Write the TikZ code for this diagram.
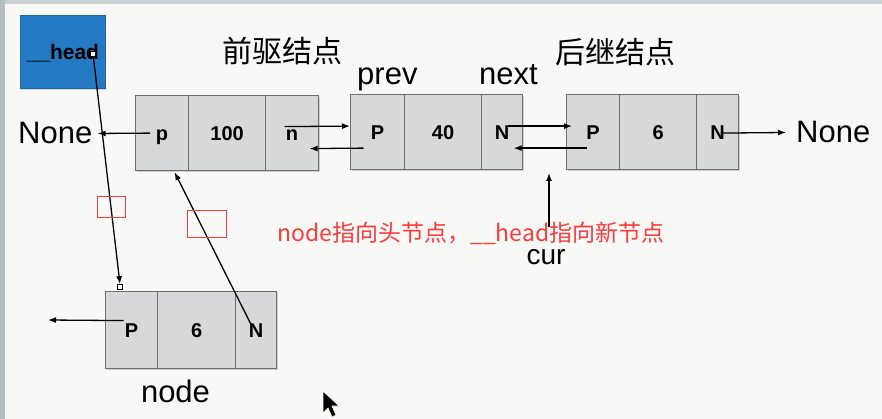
\documentclass[tikz,border=0pt]{standalone}
\usepackage{fontspec}
\setmainfont{Liberation Sans}
\newfontfamily\cjk{Noto Sans CJK SC}
\usetikzlibrary{arrows.meta,shadows}
\definecolor{bg}{HTML}{F8F8F6}
\definecolor{edgegray}{HTML}{B4BDC0}
\definecolor{cellfill}{HTML}{D6D8D9}
\definecolor{celldraw}{HTML}{6E6E6E}
\definecolor{headblue}{HTML}{2479C3}
\definecolor{redtxt}{HTML}{FF3B3B}
\begin{document}
\begin{tikzpicture}[x=1pt,y=-1pt,
  cell/.style={draw=celldraw, line width=1.2pt, fill=cellfill, minimum height=75pt,
    inner sep=0pt, text height=14pt, text depth=0pt, anchor=north west,
    font=\bfseries\fontsize{20}{20}\selectfont,
    drop shadow={shadow xshift=1pt, shadow yshift=-1.5pt, opacity=0.35}},
  big/.style={inner sep=0pt, font=\fontsize{31}{31}\selectfont},
  cjklabel/.style={inner sep=0pt, font=\cjk\fontsize{30}{30}\selectfont},
  arr/.style={line width=1.3pt, -{Latex[length=8pt,width=6pt]}},
  tinysq/.style={draw=black, fill=white, line width=0.7pt, minimum size=5pt, inner sep=0pt},
  redbox/.style={draw=redtxt, line width=0.8pt}
]
\useasboundingbox (0,0) rectangle (882,419);
\fill[bg] (0,0) rectangle (882,419);
\fill[edgegray!70] (0,0) rectangle (882,4);
\fill[edgegray] (0,0) rectangle (5,419);

% head box
\node[draw=headblue!85!black, fill=headblue, line width=0.8pt, minimum width=85pt, minimum height=73pt,
  anchor=north west, inner sep=0pt, text height=15pt, text depth=0pt,
  drop shadow={shadow xshift=1pt, shadow yshift=-1.5pt, opacity=0.3},
  font=\bfseries\fontsize{21}{21}\selectfont] (head) at (20,15) {\_\_head};
\node[tinysq] (hsq) at (93,54) {};

% labels
\node[cjklabel] (pre) at (282,51) {前驱结点};
\node[cjklabel] (suc) at (615,52) {后继结点};
\node[big, anchor=base west] (prev) at (357,85) {prev};
\node[big, anchor=base west] (next) at (479,85) {next};
\node[big, anchor=base west] (noneL) at (18,144) {None};
\node[big, anchor=base west] (noneR) at (796,143) {None};
\node[inner sep=0pt, font=\fontsize{28}{28}\selectfont, anchor=base] (cur) at (546,265) {cur};
\node[big, anchor=base] (nodelbl) at (175.5,402) {node};
\node[inner sep=0pt, anchor=west, text=redtxt, font=\cjk\fontsize{23}{23}\selectfont] (note) at (277,233)
  {node指向头节点，\_\_head指向新节点};

% node 1
\node[cell, minimum width=53pt] (n1p) at (135,95) {p};
\node[cell, minimum width=77pt] (n1d) at (188,95) {100};
\node[cell, minimum width=53pt] (n1n) at (265,95) {n};
% node 2
\node[cell, minimum width=54pt] (n2p) at (350,94) {P};
\node[cell, minimum width=77pt] (n2d) at (404,94) {40};
\node[cell, minimum width=41pt] (n2n) at (481,94) {N};
% node 3
\node[cell, minimum width=53pt] (n3p) at (566,94) {P};
\node[cell, minimum width=77pt] (n3d) at (619,94) {6};
\node[cell, minimum width=42pt] (n3n) at (696,94) {N};
% new node
\node[cell, minimum width=52pt, minimum height=77pt] (bp) at (105,291) {P};
\node[cell, minimum width=78pt, minimum height=77pt] (bd) at (157,291) {6};
\node[cell, minimum width=41pt, minimum height=77pt] (bn) at (235,291) {N};

\node[tinysq, minimum size=5pt] (bsq) at (120,287) {};
\coordinate (curtip) at (549,173);
\coordinate (curtail) at (549,227);
\coordinate (bpend) at (48,320);

% connectors
\draw[arr] ([xshift=-12pt]n1p.center) -- ([xshift=5pt]noneL.east);
\draw[arr] ([xshift=-7.5pt,yshift=6.5pt]n1n.center) -- ([yshift=6pt]n2p.west);
\draw[arr] ([xshift=-14pt,yshift=-16pt]n2p.center) -- ([xshift=17.5pt,yshift=-15.5pt]n1n.center);
\draw[arr] ([xshift=5.5pt,yshift=6pt]n2n.center) -- ([xshift=6pt,yshift=6pt]n3p.west);
\draw[arr] ([xshift=-6.5pt,yshift=-16pt]n3p.center) -- ([xshift=11.5pt,yshift=-16pt]n2n.center);
\draw[arr] ([xshift=3pt,yshift=-1pt]n3n.center) -- ([xshift=-10pt]noneR.west);
\draw[arr] (curtail) -- (curtip);
\draw[arr] ([xshift=-8pt,yshift=9.5pt]bp.center) -- (bpend);
\draw[arr] (hsq.center) -- (bsq.north);
\draw[arr] ([xshift=-5.5pt,yshift=6.5pt]bn.center) -- ([xshift=12.5pt,yshift=-1pt]n1p.south);
\node[tinysq] at (hsq) {};

% red marker boxes
\draw[redbox] (97,196) rectangle (125,217);
\draw[redbox] (187,210) rectangle (226,237);

% mouse pointer
\filldraw[fill=black, draw=white, line width=0.6pt]
  (323,391) -- (323,413) -- (328,408) -- (332,417) -- (336,415) -- (332,406) -- (339,406) -- cycle;
\end{tikzpicture}
\end{document}
